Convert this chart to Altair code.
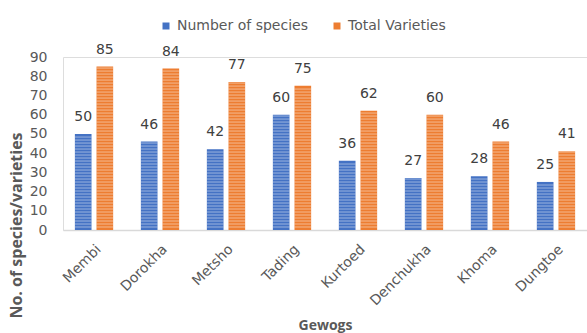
import altair as alt
import pandas as pd

# Gewogs and counts per gewog
gewogs = ["Membi", "Dorokha", "Metsho", "Tading", "Kurtoed", "Denchukha", "Khoma", "Dungtoe"]
species = [50, 46, 42, 60, 36, 27, 28, 25]
varieties = [85, 84, 77, 75, 62, 60, 46, 41]
series = ["Number of species", "Total Varieties"]
colors = ["#4472C4", "#ED7D31"]
y_ticks = [0, 10, 20, 30, 40, 50, 60, 70, 80, 90]

rows = []
for g, s, v in zip(gewogs, species, varieties):
    rows.append({"gewog": g, "series": series[0], "value": s})
    rows.append({"gewog": g, "series": series[1], "value": v})
df = pd.DataFrame(rows)

# thin light bands that give each bar its horizontal hatch
pitch = 1.56
half = 0.27
hatch = []
for r in rows:
    k = 1
    while k * pitch + half < r["value"]:
        hatch.append({"gewog": r["gewog"], "series": r["series"],
                      "value": k * pitch - half, "hi": k * pitch + half})
        k += 1
hatch_df = pd.DataFrame(hatch)

font = "DejaVu Sans"
title_font = "Open Sans"
grey = "#595959"

x_axis = alt.Axis(
    title="Gewogs", titleFontSize=14, titleFontWeight="bold", titleColor=grey,
    titleFont=title_font, titleY=95, titleBaseline="middle",
    labelAngle=-45, labelFontSize=14, labelColor=grey, labelFont=font,
    labelPadding=12, ticks=False, domainColor="#D9D9D9", domainWidth=1.5,
    labelOverlap=False,
)
y_axis = alt.Axis(
    title="No. of species/varieties", titleFontSize=16, titleFontWeight="bold",
    titleColor=grey, titleFont=title_font, titleX=-47, titleY=168,
    titleAlign="center", titleBaseline="middle",
    values=y_ticks, labelOverlap=False,
    labelFontSize=14, labelColor=grey, labelFont=font,
    labelPadding=16, ticks=False, domain=False, grid=False,
)

x_enc = alt.X("gewog:N", sort=gewogs,
              scale=alt.Scale(paddingInner=0.42, paddingOuter=0.18), axis=x_axis)
xoff_enc = alt.XOffset("series:N", sort=series,
                       scale=alt.Scale(paddingInner=0.23, paddingOuter=0))
y_enc = alt.Y("value:Q", scale=alt.Scale(domain=[0, 90]), axis=y_axis)

bars = alt.Chart(df).mark_bar().encode(
    x=x_enc,
    xOffset=xoff_enc,
    y=y_enc,
    color=alt.Color(
        "series:N", sort=series,
        scale=alt.Scale(domain=series, range=colors),
        legend=alt.Legend(
            title=None, orient="none", legendX=96, legendY=-38, direction="horizontal",
            symbolType="square", symbolSize=49, symbolStrokeWidth=0,
            labelFontSize=14, labelFont=font, labelColor=grey,
            columnPadding=22, labelOffset=4,
        ),
    ),
)

stripes = alt.Chart(hatch_df).mark_bar(color="white", opacity=0.45).encode(
    x=x_enc,
    xOffset=xoff_enc,
    y=y_enc,
    y2="hi:Q",
)

labels = alt.Chart(df).mark_text(
    baseline="bottom", dy=-10, fontSize=14, font=font, color="#404040"
).encode(
    x=x_enc,
    xOffset=xoff_enc,
    y=y_enc,
    text="value:Q",
)

chart = alt.layer(bars, stripes, labels).properties(
    width=524, height=173,
    autosize=alt.AutoSizeParams(type="none"),
    padding={"left": 63, "top": 57, "right": 0, "bottom": 103},
).configure_view(stroke=None).configure(background="white")

chart.save("out.html", embed_options={"renderer": "svg", "actions": False})
